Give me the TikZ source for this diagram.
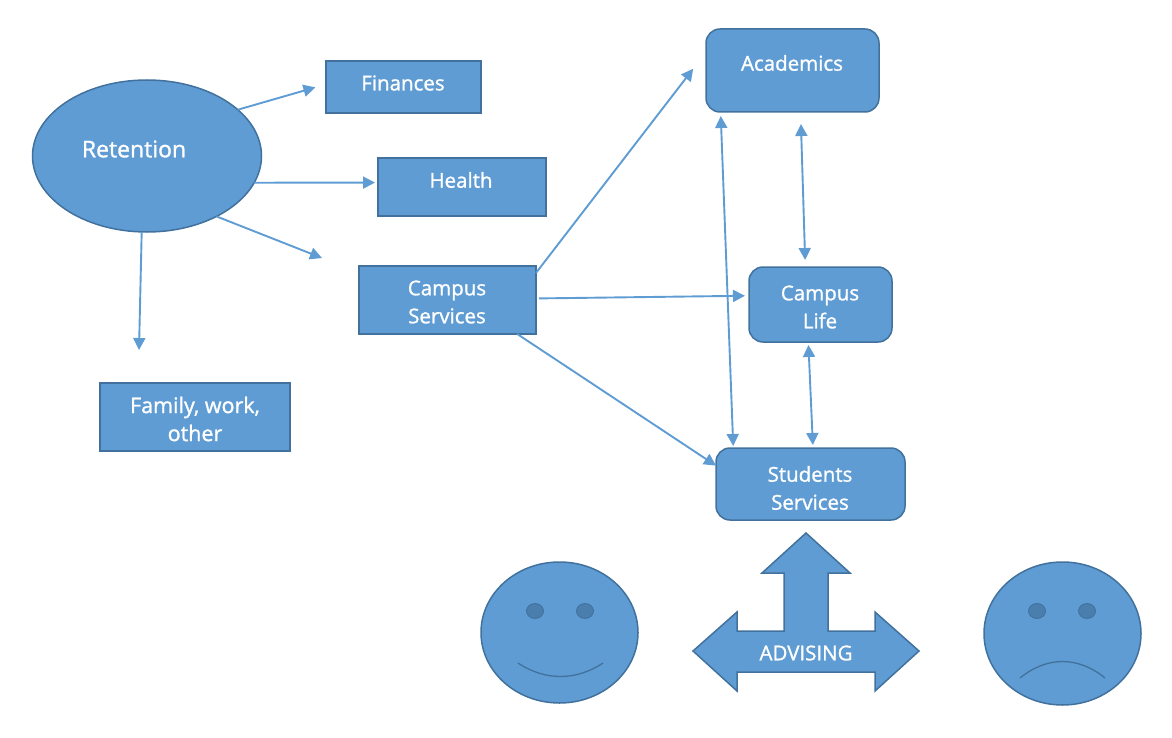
\documentclass[tikz,border=0pt]{standalone}
\usepackage{fontspec}
\setmainfont[FakeBold=1.2]{Open Sans}
\usetikzlibrary{arrows.meta,shapes.geometric}
\definecolor{boxfill}{HTML}{5E9CD3}
\definecolor{boxline}{HTML}{41719C}
\definecolor{eyefill}{HTML}{4A7EAC}
\tikzset{
  shape body/.style={draw=boxline,fill=boxfill,line width=1.5pt,inner sep=0pt,outer sep=0pt},
  plain box/.style={shape body,rectangle},
  round box/.style={shape body,rectangle,rounded corners=14pt},
  oval/.style={shape body,ellipse},
  word/.style={text=white,font=\fontsize{20.5}{28}\selectfont,align=center,inner sep=0pt},
  link/.style={draw=boxfill,line width=1.9pt},
}
\begin{document}
\begin{tikzpicture}[x=1pt,y=-1pt,>={Triangle[length=12pt,width=12pt]}]
    \useasboundingbox (0,0) rectangle (1172,738);
    % left side
    \node[oval,minimum width=229pt,minimum height=152pt] (retention) at (147,156) {};
    \node[plain box,minimum width=155pt,minimum height=52pt] (finances) at (403.5,87) {};
    \node[plain box,minimum width=168pt,minimum height=58pt] (health) at (462,187) {};
    \node[plain box,minimum width=177pt,minimum height=68pt] (campus) at (447.5,300) {};
    \node[plain box,minimum width=190pt,minimum height=68pt] (family) at (195,417) {};
    % right side
    \node[round box,minimum width=173pt,minimum height=83pt] (academics) at (792.5,70.5) {};
    \node[round box,minimum width=143pt,minimum height=75pt] (life) at (820.5,304.5) {};
    \node[round box,minimum width=189pt,minimum height=72pt] (students) at (810.5,484) {};
    % faces
    \node[oval,minimum width=157pt,minimum height=141pt] (happy) at (559.5,632.5) {};
    \node[oval,minimum width=157pt,minimum height=143pt] (sad) at (1062.5,633.5) {};
    \foreach \x/\n in {535/a,585/b,1037/c,1087/d}{
      \node[oval,draw=boxline,fill=eyefill,line width=0.8pt,minimum width=17pt,minimum height=15pt] (eye\n) at (\x,611) {};
    }
    \coordinate (smileL) at (518,663);
    \coordinate (smileR) at (603,663);
    \coordinate (frownL) at (1020,678);
    \coordinate (frownR) at (1105,678);
    \draw[boxline,line width=1.3pt] (smileL) .. controls (545,681) and (576,681) .. (smileR);
    \draw[boxline,line width=1.3pt] (frownL) .. controls (1047,656) and (1078,656) .. (frownR);
    % advising arrow
    \draw[shape body,line join=miter] (806,533) -- (850,573) -- (828,573) -- (828,631) -- (875,631) -- (875,612)
      -- (919,651) -- (875,691) -- (875,672) -- (737,672) -- (737,691) -- (693,651) -- (737,612) -- (737,631)
      -- (784,631) -- (784,573) -- (762,573) -- cycle;
    % texts
    \node[word,font=\fontsize{23}{28}\selectfont] (retentiontext) at (134,149) {Retention};
    \node[word] (financestext) at (403,83) {Finances};
    \node[word] (healthtext) at (461,180) {Health};
    \node[word] (campustext) at (447,302) {Campus\\Services};
    \node[word,font=\fontsize{21.5}{28}\selectfont] (familytext) at (195,419) {Family, work,\\other};
    \node[word] (academicstext) at (792,63) {Academics};
    \node[word] (lifetext) at (820,307) {Campus\\Life};
    \node[word] (studentstext) at (810,488) {Students\\Services};
    \node[word] (advisingtext) at (806,653) {ADVISING};
    % connectors
    \coordinate (gapend) at (322,258);
    \coordinate (familyend) at (139,350);
    \draw[link,->,shorten >=11pt] (retention.27.6) -- (finances.178.5);
    \draw[link,->,shorten >=3pt] (retention.-14) -- (health.177);
    \draw[link,->] (retention.-41.5) -- (gapend);
    \draw[link,->] (retention.-94.5) -- (familyend);
    \draw[link,->,shorten >=21pt] (campus.17.5) -- (academics.168);
    \draw[link,->,shorten <=3pt,shorten >=4pt] (campus.1) -- (life.173);
    \draw[link,->] (campus.-26.4) -- (students.169.8);
    \draw[link,<->,shorten <=4pt,shorten >=2pt] (academics.210.5) -- (students.155.6);
    \draw[link,<->,shorten <=12pt,shorten >=7pt] (academics.-79.8) -- (life.112.5);
    \draw[link,<->,shorten <=3pt,shorten >=3pt] (life.-108.4) -- (students.86);
\end{tikzpicture}
\end{document}
